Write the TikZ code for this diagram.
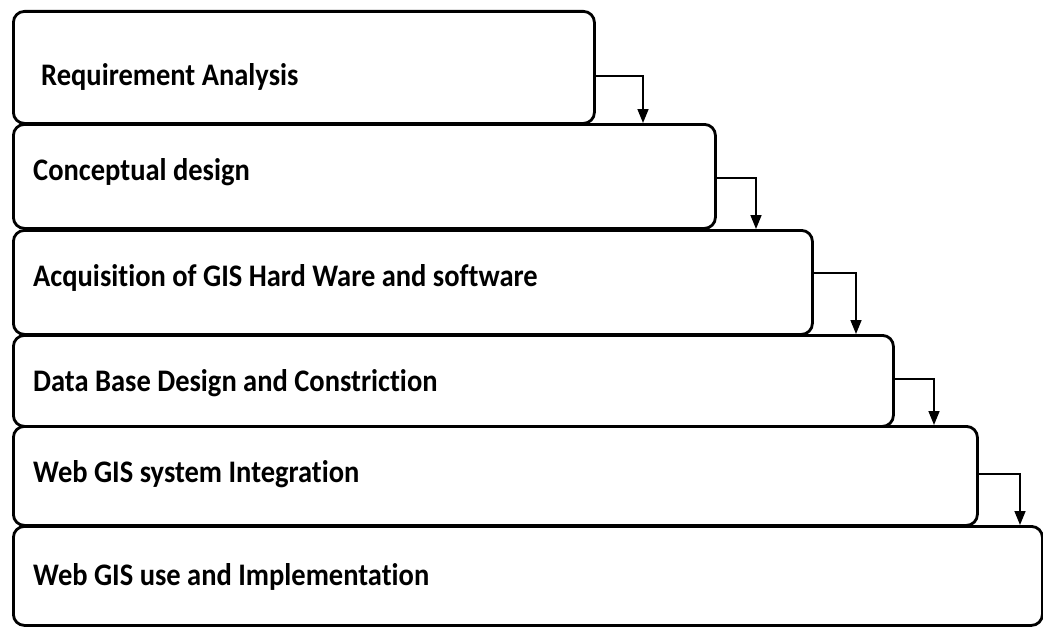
\documentclass[tikz,border=0pt]{standalone}
\usepackage{fontspec}
\setmainfont[Ligatures=NoCommon]{Carlito}
\usetikzlibrary{arrows.meta,calc}
\begin{document}
\begin{tikzpicture}[x=1pt,y=-1pt,
  stage/.style={draw=black, line width=2.8pt, rounded corners=11pt, anchor=north west, inner sep=0pt},
  lbl/.style={anchor=west, inner sep=0pt, font=\fontsize{28.5}{32}\selectfont\bfseries},
  arr/.style={draw=black, line width=1.6pt, -{Triangle[length=14pt,width=11pt]}}]
\useasboundingbox (0,0) rectangle (1043,626);
\node[stage, minimum width=581pt, minimum height=112pt] (b1) at (12,10) {};
\node[stage, minimum width=702pt, minimum height=104pt] (b2) at (12,123) {};
\node[stage, minimum width=799pt, minimum height=104pt] (b3) at (12,229) {};
\node[stage, minimum width=880pt, minimum height=91pt] (b4) at (12,334) {};
\node[stage, minimum width=964pt, minimum height=99pt] (b5) at (12,425) {};
\node[stage, minimum width=1029pt, minimum height=99pt] (b6) at (12,525) {};
\node[lbl] (t1) at (41,77) {\scalebox{1}[1.1]{Requirement Analysis}};
\node[lbl] (t2) at (33,172) {\scalebox{1}[1.1]{Conceptual design}};
\node[lbl] (t3) at (33,278) {\scalebox{1}[1.1]{Acquisition of GIS Hard Ware and software}};
\node[lbl] (t4) at (33,383) {\scalebox{1}[1.1]{Data Base Design and Constriction}};
\node[lbl] (t5) at (33,474) {\scalebox{1}[1.1]{Web GIS system Integration}};
\node[lbl] (t6) at (33,577) {\scalebox{1}[1.1]{Web GIS use and Implementation}};
\coordinate (a1) at (593,76);
\coordinate (a2) at (714,178);
\coordinate (a3) at (811,273);
\coordinate (a4) at (892,379);
\coordinate (a5) at (976,474);
\draw[arr] (a1) -| (643,0 |- b2.north);
\draw[arr] (a2) -| (756,0 |- b3.north);
\draw[arr] (a3) -| (856,0 |- b4.north);
\draw[arr] (a4) -| (934,0 |- b5.north);
\draw[arr] (a5) -| (1020,0 |- b6.north);
\end{tikzpicture}
\end{document}
